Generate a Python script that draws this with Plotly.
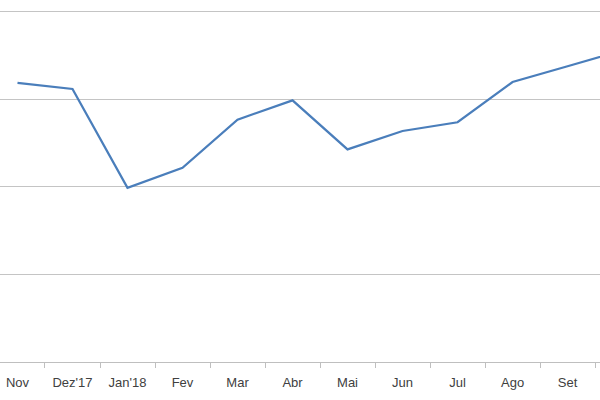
import plotly.graph_objects as go

months = ["Nov", "Dez'17", "Jan'18", "Fev", "Mar", "Abr", "Mai", "Jun", "Jul", "Ago", "Set", "Out"]
values = [3.19, 3.12, 1.99, 2.22, 2.77, 2.99, 2.43, 2.64, 2.74, 3.20, 3.38, 3.56]
grid_values = [0, 1, 2, 3, 4]

fig = go.Figure(go.Scatter(
    x=months, y=values, mode="lines",
    line=dict(color="#4a7ebb", width=2.25),
    cliponaxis=True, hoverinfo="skip",
))

fig.update_layout(
    width=600, height=400,
    margin=dict(l=0, r=0, t=0, b=38),
    paper_bgcolor="white", plot_bgcolor="white",
    showlegend=False,
    font=dict(family="Liberation Sans, Arial, sans-serif", size=13, color="#404040"),
)
fig.update_xaxes(
    type="category", range=[-0.318, 10.59],
    showgrid=False, showline=True, linecolor="#bfbfbf", linewidth=1,
    ticks="outside", tickson="boundaries", ticklen=5, tickcolor="#bfbfbf",
    ticklabelstandoff=8,
    zeroline=False,
)
fig.update_yaxes(
    range=[0, 4.137], tickvals=grid_values, showticklabels=False,
    showgrid=True, gridcolor="#c4c4c4", gridwidth=1, zeroline=False,
)

fig.write_html("out.html", config={"displayModeBar": False},
               post_script="document.body.style.margin='0';")
